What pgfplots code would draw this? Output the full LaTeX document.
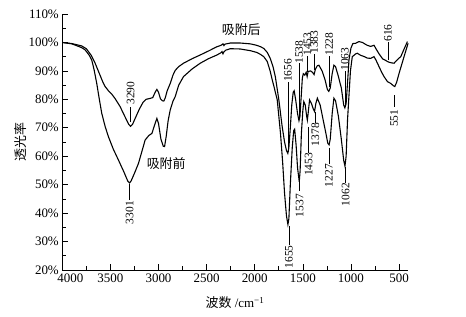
\documentclass[border=0pt]{standalone}
\usepackage{pgfplots}
\pgfplotsset{compat=1.18}
\usepackage{fontspec}
\setmainfont{Liberation Serif}
\newfontfamily\cjk{Noto Sans CJK SC}
\newcommand\lbl{\fontsize{11.5}{12}\selectfont}
\newcommand\tck{\fontsize{13}{14}\selectfont}
\begin{document}
\begin{tikzpicture}
\path[use as bounding box] (-62.3bp,-47bp) rectangle (403.7bp,270bp);
\begin{axis}[
  scale only axis, width=345.4bp, height=256bp,
  x dir=reverse, xmin=410, xmax=4000, ymin=20, ymax=110,
  axis x line=bottom, axis y line=left, axis line style={-, line width=0.8pt},
  tick align=inside, major tick length=6bp, minor tick length=4bp,
  xtick={500,1000,...,4000}, ytick={20,30,...,110},
  xticklabels={500,1000,1500,2000,2500,3000,3500,{\hspace*{16bp}4000}},
  minor x tick num=1, minor y tick num=1,
  tick style={black, line width=0.6pt},
  /pgf/number format/assume math mode=true,
  /pgf/number format/1000 sep={},
  yticklabel={\pgfmathprintnumber{\tick}\%},
  ticklabel style={font=\tck},
  xlabel={{\cjk 波数} /cm\textsuperscript{−1}},
  ylabel={{\cjk 透光率}},
  label style={font=\fontsize{13}{14}\selectfont},
  x label style={at={(axis description cs:0.5,0)}, anchor=center, yshift=-33bp},
  y label style={at={(axis description cs:-0.122,0.5)}, anchor=center},
  clip=false,
]
% after adsorption
\addplot[black, line width=1.1pt] coordinates {
(4000,100) (3900,99.6) (3800,98.8) (3750,97.8) (3700,95.5) (3660,92.8) (3620,89.5)
(3580,86.2) (3555,84.5) (3520,83) (3485,81.8) (3450,80.2) (3400,77.5) (3350,74)
(3310,71.2) (3290,70.5) (3270,71.2) (3240,73.5) (3200,76.5) (3160,79) (3130,80)
(3090,80.3) (3060,80.6) (3035,82.5) (3017,83.5) (3000,82.5) (2980,80.2) (2960,79.5)
(2945,79.4) (2930,80.5) (2910,83) (2878,85.6) (2850,88.5) (2826,90.2) (2790,91.5)
(2740,92.7) (2650,94.3) (2566,95.6) (2480,97) (2392,98.5) (2350,99) (2330,99.5)
(2320,98.9) (2310,99.4) (2280,99.6) (2253,99.8) (2150,99.8) (2045,99.5) (1980,99)
(1940,98.5) (1906,97.9) (1870,96.5) (1840,94.5) (1810,91.5) (1786,88) (1750,80)
(1715,70.5) (1690,65) (1670,62) (1656,61) (1645,63) (1630,70) (1615,78) (1600,82.5)
(1590,83) (1575,80) (1555,75) (1540,72.5) (1530,74) (1515,82) (1505,87.5) (1495,89)
(1480,88.5) (1465,89.5) (1455,88) (1445,89.8) (1420,90) (1400,89.5) (1383,88.7)
(1370,90.5) (1350,91.8) (1333,92) (1300,90) (1270,87) (1245,83.5) (1230,82.8)
(1215,84) (1195,89) (1177,92) (1160,91.5) (1130,88) (1100,84) (1075,78) (1063,77)
(1050,78.5) (1035,86) (1020,94) (1000,98) (980,99.6) (951,99.7) (917,100.3)
(880,100) (847,99.3) (830,99) (795,98.6) (760,99) (740,97.8) (708,96) (670,94.2)
(640,93.7) (621,93.3) (600,93) (575,92.8) (552,92.7) (530,93.5) (500,94.5)
(482,95) (450,97.5) (413,100.3)
};
% before adsorption
\addplot[black, line width=1.1pt] coordinates {
(4000,100) (3900,99.5) (3800,98.2) (3763,97.4) (3720,95.5) (3694,93.8) (3670,90.5)
(3642,85.6) (3615,80) (3590,75.1) (3555,70.5) (3521,66.9) (3470,62.5) (3417,58.7)
(3360,54.5) (3320,51.3) (3301,50.6) (3285,51.3) (3250,54) (3208,57.5) (3170,62)
(3139,65.7) (3100,67.3) (3069,68) (3040,71) (3017,73.3) (3000,71.5) (2975,66)
(2950,63.5) (2937,63.4) (2920,67) (2900,72.5) (2878,76.3) (2850,79.3) (2826,81)
(2790,85) (2740,88) (2650,90.7) (2566,92.7) (2480,94.3) (2392,95.6) (2350,96.4)
(2340,96.8) (2330,96) (2320,96.7) (2300,97.3) (2253,97.8) (2150,97.7) (2045,97.1)
(1980,96.5) (1940,95.8) (1906,95) (1870,93.3) (1840,90) (1819,87) (1800,84.5)
(1766,79.8) (1732,68) (1710,58) (1690,47) (1670,39) (1655,36) (1645,38) (1630,50)
(1610,63) (1595,69) (1585,69.5) (1570,64) (1555,56) (1537,51) (1528,55) (1515,68)
(1500,76) (1490,79.2) (1475,78) (1460,74) (1453,72.7) (1445,75) (1430,79.8)
(1410,78.5) (1390,76.5) (1378,75.7) (1365,78.5) (1349,80.4) (1320,78) (1290,73)
(1260,68) (1240,64.5) (1227,64) (1215,66) (1195,75) (1177,80.4) (1160,79.5)
(1130,74) (1100,66) (1075,58.5) (1062,56.5) (1050,60) (1035,73) (1021,81)
(1005,90) (986,95) (950,96) (934,96.2) (900,95.5) (860,95) (830,94.5) (795,94.4)
(760,95) (740,93.8) (708,91.5) (680,89.5) (656,88) (620,86.2) (586,85.6) (560,84.8)
(544,84.5) (525,86) (500,89.1) (470,92.5) (448,95) (406,99.7)
};
% annotations
\draw[line width=0.4pt] (axis cs:3290,72) -- (axis cs:3290,77.3);
\node[rotate=90, font=\lbl] at (axis cs:3290,82.2) {3290};
\draw[line width=0.4pt] (axis cs:3301,50.4) -- (axis cs:3301,44.6);
\node[rotate=90, font=\lbl] at (axis cs:3301,40.2) {3301};
\draw[line width=0.4pt] (axis cs:1656,61.5) -- (axis cs:1656,86);
\node[rotate=90, font=\lbl] at (axis cs:1656,90.2) {1656};
\draw[line width=0.4pt] (axis cs:1538,73.4) -- (axis cs:1538,92.6);
\node[rotate=90, font=\lbl] at (axis cs:1538,96.6) {1538};
\draw[line width=0.4pt] (axis cs:1453,89.6) -- (axis cs:1453,95.4);
\node[rotate=90, font=\lbl] at (axis cs:1453,99.4) {1453};
\draw[line width=0.4pt] (axis cs:1383,90.3) -- (axis cs:1383,96.1);
\node[rotate=90, font=\lbl] at (axis cs:1383,100.1) {1383};
\draw[line width=0.4pt] (axis cs:1228,84.5) -- (axis cs:1228,95.4);
\node[rotate=90, font=\lbl] at (axis cs:1228,99.4) {1228};
\draw[line width=0.4pt] (axis cs:1063,78) -- (axis cs:1063,90.1);
\node[rotate=90, font=\lbl] at (axis cs:1063,94.1) {1063};
\draw[line width=0.4pt] (axis cs:616,93.8) -- (axis cs:616,100);
\node[rotate=90, font=\lbl] at (axis cs:616,103.3) {616};
\draw[line width=0.4pt] (axis cs:551,81.5) -- (axis cs:551,77.4);
\node[rotate=90, font=\lbl] at (axis cs:551,73.3) {551};
\draw[line width=0.4pt] (axis cs:1440,70.3) -- (axis cs:1440,61.3);
\node[rotate=90, font=\lbl] at (axis cs:1440,57.1) {1453};
\draw[line width=0.4pt] (axis cs:1370,75.5) -- (axis cs:1370,71.7);
\node[rotate=90, font=\lbl] at (axis cs:1370,67.6) {1378};
\draw[line width=0.4pt] (axis cs:1229,63) -- (axis cs:1229,57.4);
\node[rotate=90, font=\lbl] at (axis cs:1229,53.2) {1227};
\draw[line width=0.4pt] (axis cs:1056,56.2) -- (axis cs:1056,50.6);
\node[rotate=90, font=\lbl] at (axis cs:1056,46.5) {1062};
\draw[line width=0.4pt] (axis cs:1534,50.8) -- (axis cs:1534,47.9);
\node[rotate=90, font=\lbl] at (axis cs:1534,42.6) {1537};
\draw[line width=0.4pt] (axis cs:1646,35.5) -- (axis cs:1646,28.8);
\node[rotate=90, font=\lbl] at (axis cs:1646,24.6) {1655};
\node[font=\cjk\fontsize{13}{14}\selectfont] at (axis cs:2140,104.4) {吸附后};
\node[font=\cjk\fontsize{13}{14}\selectfont] at (axis cs:2920,57.5) {吸附前};
\end{axis}
\end{tikzpicture}
\end{document}
